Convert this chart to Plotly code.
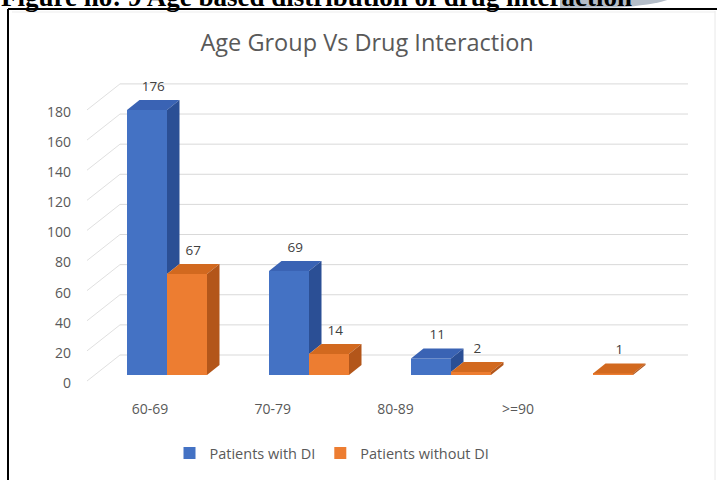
import plotly.graph_objects as go

# ---- data ----
categories = ["60-69", "70-79", "80-89", ">=90"]
with_di = [176, 69, 11, 0]
without_di = [67, 14, 2, 1]
series_names = ["Patients with DI", "Patients without DI"]
y_ticks = [0, 20, 40, 60, 80, 100, 120, 140, 160, 180]

# ---- page geometry (pixels) ----
W, H = 717, 480
ML, MR, MT, MB = 72, 17, 70, 85
PW, PH = W - ML - MR, H - MT - MB

# bar plane: category spacing and vertical scale
CAT_PX = 142.0          # px between category centres
CAT0_PX = 167.0         # px of first category centre
Y_PX = 1.506            # px per unit
ZERO_PX = 375.0         # px of value 0 on the bar front plane
BAR_PX = 40.0           # bar width, px
DEPTH_DX_PX, DEPTH_DY_PX = 12.5, 10.0   # bar depth projection

xr0 = (ML - CAT0_PX) / CAT_PX
xr1 = (W - MR - CAT0_PX) / CAT_PX
yr0 = (ZERO_PX - (H - MB)) / Y_PX
yr1 = (ZERO_PX - MT) / Y_PX

bw = BAR_PX / CAT_PX
ddx = DEPTH_DX_PX / CAT_PX
ddy = DEPTH_DY_PX / Y_PX

def px_x(px):
    return (px - CAT0_PX) / CAT_PX

def paper_x(px):
    return (px - ML) / PW

def paper_y(py):
    return (H - MB - py) / PH

colors = {
    "front": ["#4472C4", "#ED7D31"],
    "top": ["#3A63B4", "#D2691F"],
    "side": ["#2B4F95", "#B3561A"],
}
series = [with_di, without_di]

fig = go.Figure()

# front faces
for s, vals in enumerate(series):
    off = -bw / 2 if s == 0 else bw / 2
    fig.add_trace(go.Bar(
        x=[i + off for i in range(len(categories))], y=vals, width=bw,
        name=series_names[s], marker=dict(color=colors["front"][s], line=dict(width=0)),
        hoverinfo="skip",
    ))

# top and side faces, category by category (left bar first)
for i in range(len(categories)):
    for s, vals in enumerate(series):
        v = vals[i]
        if v <= 0:
            continue
        xl = i - bw if s == 0 else i
        xr = xl + bw
        fig.add_trace(go.Scatter(
            x=[xl, xr, xr + ddx, xl + ddx, xl], y=[v, v, v + ddy, v + ddy, v],
            fill="toself", fillcolor=colors["top"][s], mode="lines",
            line=dict(width=0), showlegend=False, hoverinfo="skip"))
        # side face hidden by the neighbouring bar up to that bar's height
        low = 0
        if s == 0:
            low = series[1][i]
            if low >= v:
                continue
        fig.add_trace(go.Scatter(
            x=[xr, xr, xr + ddx, xr + ddx, xr], y=[low, v, v + ddy, low + ddy, low],
            fill="toself", fillcolor=colors["side"][s], mode="lines",
            line=dict(width=0), showlegend=False, hoverinfo="skip"))

# value labels
for s, vals in enumerate(series):
    xs, ys, ts = [], [], []
    for i, v in enumerate(vals):
        if v <= 0:
            continue
        xs.append(i + (-bw / 2 if s == 0 else bw / 2) + ddx / 2)
        ys.append(v + 15)
        ts.append(str(v))
    fig.add_trace(go.Scatter(
        x=xs, y=ys, text=ts, mode="text", showlegend=False, hoverinfo="skip",
        textfont=dict(family="Open Sans", size=13.5, color="#404040")))

# back wall gridlines and left wall lines
wall_shift = 20.0 / Y_PX
left_drop = 6.0 / Y_PX
shapes = []
for v in y_ticks:
    shapes.append(dict(type="line", xref="x", yref="y", layer="below",
                       x0=px_x(120), x1=px_x(688), y0=v + wall_shift, y1=v + wall_shift,
                       line=dict(color="#D9D9D9", width=1)))
    shapes.append(dict(type="line", xref="x", yref="y", layer="below",
                       x0=px_x(87), x1=px_x(120), y0=v - left_drop, y1=v + wall_shift,
                       line=dict(color="#E0E0E0", width=1)))

# frame of the figure and the caption's ribbon
shapes += [
    dict(type="path", xref="paper", yref="paper", layer="below",
         path=f"M {paper_x(560)},{paper_y(-1)} L {paper_x(670)},{paper_y(-1)} "
              f"Q {paper_x(655)},{paper_y(5)} {paper_x(618)},{paper_y(7.5)} "
              f"L {paper_x(560)},{paper_y(8)} Z",
         fillcolor="#B4BDC8", line=dict(width=0)),
    dict(type="line", xref="paper", yref="paper", x0=paper_x(8), x1=paper_x(717),
         y0=paper_y(9), y1=paper_y(9), line=dict(color="#000000", width=2)),
    dict(type="line", xref="paper", yref="paper", x0=paper_x(8), x1=paper_x(8),
         y0=paper_y(9), y1=paper_y(480), line=dict(color="#000000", width=2)),
    dict(type="line", xref="paper", yref="paper", x0=paper_x(715), x1=paper_x(715),
         y0=paper_y(11), y1=paper_y(480), line=dict(color="#E8E8E8", width=1)),
    dict(type="line", xref="paper", yref="paper", x0=paper_x(12), x1=paper_x(715),
         y0=paper_y(12), y1=paper_y(12), line=dict(color="#EDEDED", width=1)),
]

tick_pos = [px_x(150 + 122.7 * i) for i in range(len(categories))]

fig.update_layout(
    width=W, height=H,
    margin=dict(l=ML, r=MR, t=MT, b=MB),
    paper_bgcolor="white", plot_bgcolor="white",
    barmode="overlay",
    shapes=shapes,
    title=dict(text="Age Group Vs Drug Interaction", x=0.512, xanchor="center",
               y=1 - 43 / H, yanchor="middle",
               font=dict(family="Open Sans", size=23.5, color="#595959")),
    xaxis=dict(range=[xr0, xr1], tickvals=tick_pos, ticktext=categories,
               showgrid=False, zeroline=False, showline=False, ticks="",
               ticklabelstandoff=4,
               tickfont=dict(family="Open Sans", size=14, color="#595959")),
    yaxis=dict(range=[yr0, yr1], tickvals=y_ticks, showgrid=False, zeroline=False,
               showline=False, ticks="", ticklabelshift=8,
               tickfont=dict(family="Open Sans", size=14, color="#595959")),
    legend=dict(orientation="h", x=332 / W, xanchor="center", xref="container",
                y=1 - 453 / H, yref="container", yanchor="middle",
                font=dict(family="Open Sans", size=14.5, color="#595959")),
    annotations=[dict(text="<b>Figure no: 9 Age based distribution of drug interaction</b>",
                      xref="paper", yref="paper", x=paper_x(-1), xanchor="left",
                      y=paper_y(14), yanchor="bottom", showarrow=False,
                      font=dict(family="Liberation Serif", size=27, color="#000000"))],
)

fig.write_html("out.html")
